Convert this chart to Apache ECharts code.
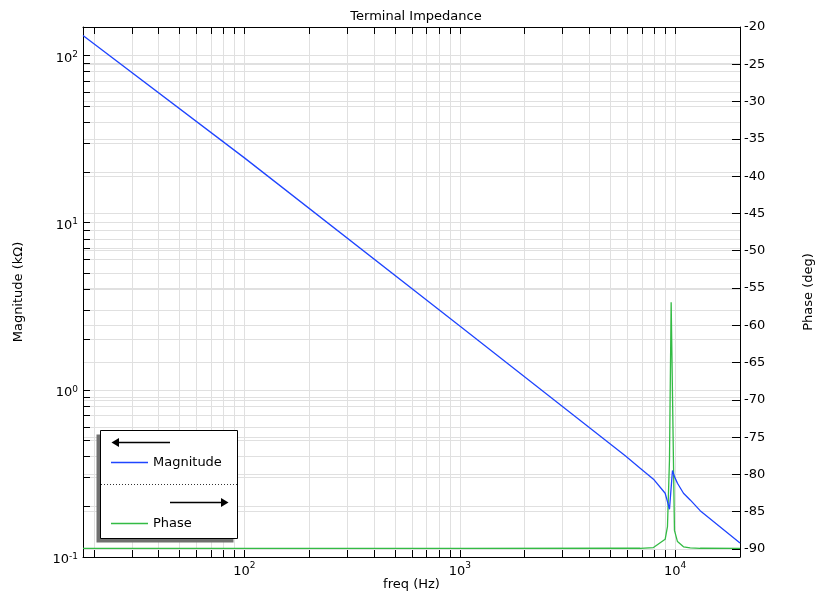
<!DOCTYPE html>
<html>
<head>
<meta charset="utf-8">
<script src="https://cdn.jsdelivr.net/npm/echarts@6/dist/echarts.min.js"></script>
<style>
  html, body { margin: 0; padding: 0; background: #fff; }
  #chart { width: 815px; height: 595px; }
</style>
</head>
<body>
<div id="chart"></div>
<script>
// sweep
var freqHz = [17.8, 100, 1000, 5865, 6878, 7929, 8985, 9209, 9409, 9580, 9717, 9925, 10249, 10930, 11742, 13063, 20000];
var magKOhm = [131.8, 24.4, 2.41, 0.403, 0.340, 0.292, 0.2406, 0.2144, 0.193, 0.197, 0.329, 0.3025, 0.2763, 0.2406, 0.2195, 0.1893, 0.1213];
var phaseDeg = [-89.92, -89.92, -89.92, -89.9, -89.9, -89.8, -88.7, -87.0, -78.1, -56.9, -69.2, -87.5, -89.0, -89.7, -89.85, -89.9, -89.92];

// axis ranges and ticks
var freqRange = [17.8, 20000];
var magRange = [0.1, 148];
var phaseRange = [-91.07, -20];
var freqDecades = [1, 2, 3, 4];
var magDecades = [-1, 0, 1, 2];
var mantissas = [1, 2, 3, 4, 5, 6, 7, 8, 9];
var freqLabelExp = [2, 3, 4];
var magLabelExp = [-1, 0, 1, 2];
var phaseTicks = [-90, -85, -80, -75, -70, -65, -60, -55, -50, -45, -40, -35, -30, -25, -20];

function pow10Label(v) {
  return "{b|10}{s|" + Math.round(v) + "}";
}
var powRich = {
  b: { fontFamily: "DejaVu Sans", fontSize: 13, lineHeight: 22, color: "#000" },
  s: { fontFamily: "DejaVu Sans", fontSize: 9, lineHeight: 10, verticalAlign: "top", color: "#000" },
};
// left labels sit a little below their tick, like the original
var powRichLeft = {
  b: { fontFamily: "DejaVu Sans", fontSize: 13, lineHeight: 22, padding: [6, 0, 0, 0], color: "#000" },
  s: { fontFamily: "DejaVu Sans", fontSize: 9, lineHeight: 10, padding: [6, 0, 0, 0], verticalAlign: "top", color: "#000" },
};
function logTicks(decades, lo, hi) {
  var out = [];
  decades.forEach(function (d) {
    mantissas.forEach(function (m) {
      var v = Math.log10(m * Math.pow(10, d));
      if (v >= lo - 1e-9 && v <= hi + 1e-9) out.push(v);
    });
  });
  return out;
}

var xMin = Math.log10(freqRange[0]), xMax = Math.log10(freqRange[1]);
var yMin = Math.log10(magRange[0]), yMax = Math.log10(magRange[1]);
var xTicks = logTicks(freqDecades, xMin, xMax);
var yTicks = logTicks(magDecades, yMin, yMax);

var magData = freqHz.map(function (f, i) { return [Math.log10(f), Math.log10(magKOhm[i])]; });
var phaseData = freqHz.map(function (f, i) { return [Math.log10(f), phaseDeg[i]]; });

var FONT = "DejaVu Sans";
var gridColor = "#e0e0e0";

var chart = echarts.init(document.getElementById("chart"));
var option = {
  animation: false,
  textStyle: { fontFamily: FONT },
  title: {
    text: "Terminal Impedance",
    left: 411,
    textAlign: "center",
    top: 5,
    textStyle: { fontFamily: FONT, fontSize: 13, fontWeight: "normal", color: "#000" },
  },
  grid: {
    left: 83,
    right: 75,
    top: 27,
    bottom: 38,
    outerBoundsMode: "none",
  },
  legend: {
    orient: "vertical",
    left: 111,
    top: 456,
    padding: 0,
    itemGap: 48,
    itemWidth: 37,
    itemHeight: 1.4,
    icon: "rect",
    z: 10,
    textStyle: { fontFamily: FONT, fontSize: 13, color: "#000" },
    data: ["Magnitude", "Phase"],
  },
  xAxis: [
    {
      type: "value",
      position: "bottom",
      min: xMin,
      max: xMax,
      name: "freq (Hz)",
      nameLocation: "middle",
      nameGap: 21,
      nameMoveOverlap: false,
      nameTextStyle: { fontFamily: FONT, fontSize: 13, color: "#000" },
      axisLine: { onZero: false, lineStyle: { color: "#000", width: 1 } },
      axisTick: { inside: true, length: 7, customValues: xTicks, lineStyle: { color: "#000" } },
      axisLabel: {
        customValues: freqLabelExp,
        formatter: pow10Label,
        rich: powRich,
        margin: 4,
        color: "#000",
      },
      splitLine: { show: true, lineStyle: { color: gridColor, width: 1 } },
    },
    {
      type: "value",
      position: "top",
      min: xMin,
      max: xMax,
      axisLine: { onZero: false, lineStyle: { color: "#000", width: 1 } },
      axisTick: { inside: true, length: 7, customValues: xTicks, lineStyle: { color: "#000" } },
      axisLabel: { show: false },
      splitLine: { show: false },
    },
  ],
  yAxis: [
    {
      type: "value",
      position: "left",
      min: yMin,
      max: yMax,
      name: "Magnitude (k\u03a9)",
      nameLocation: "middle",
      nameGap: 58,
      nameMoveOverlap: false,
      nameTextStyle: { fontFamily: FONT, fontSize: 13, color: "#000" },
      axisLine: { show: true, onZero: false, lineStyle: { color: "#000", width: 1 } },
      axisTick: { show: true, inside: true, length: 7, customValues: yTicks, lineStyle: { color: "#000" } },
      axisLabel: {
        customValues: magLabelExp,
        formatter: pow10Label,
        rich: powRichLeft,
        margin: 5,
        color: "#000",
      },
      splitLine: { show: true, lineStyle: { color: gridColor, width: 1 } },
    },
    {
      type: "value",
      position: "right",
      min: phaseRange[0],
      max: phaseRange[1],
      name: "Phase (deg)",
      nameLocation: "middle",
      nameGap: 62,
      nameMoveOverlap: false,
      nameRotate: 90,
      nameTextStyle: { fontFamily: FONT, fontSize: 13, color: "#000" },
      axisLine: { show: true, onZero: false, lineStyle: { color: "#000", width: 1 } },
      axisTick: { show: true, inside: true, length: 8, customValues: phaseTicks, lineStyle: { color: "#000" } },
      axisLabel: {
        customValues: phaseTicks,
        formatter: function (v) { return String(Math.round(v)); },
        margin: 4,
        fontFamily: FONT,
        fontSize: 13,
        color: "#000",
      },
      splitLine: { show: true, lineStyle: { color: gridColor, width: 1 } },
    },
  ],
  graphic: [
    { type: "rect", z: 5, shape: { x: 96.5, y: 434.5, width: 137, height: 108 }, style: { fill: "#707070" } },
    { type: "rect", z: 6, shape: { x: 100.5, y: 430.5, width: 137, height: 108 }, style: { fill: "#fff", stroke: "#000", lineWidth: 1 } },
    { type: "line", z: 7, shape: { x1: 101, y1: 484.5, x2: 237, y2: 484.5 }, style: { stroke: "#333", lineWidth: 1, lineDash: [1, 2] } },
    { type: "line", z: 7, shape: { x1: 118, y1: 442.5, x2: 170, y2: 442.5 }, style: { stroke: "#000", lineWidth: 1.5 } },
    { type: "polygon", z: 7, shape: { points: [[111.5, 442.5], [119, 438], [119, 447]] }, style: { fill: "#000" } },
    { type: "line", z: 7, shape: { x1: 170, y1: 502.5, x2: 222, y2: 502.5 }, style: { stroke: "#000", lineWidth: 1.5 } },
    { type: "polygon", z: 7, shape: { points: [[228.5, 502.5], [221, 498], [221, 507]] }, style: { fill: "#000" } },
  ],
  series: [
    {
      name: "Magnitude",
      type: "line",
      xAxisIndex: 0,
      yAxisIndex: 0,
      data: magData,
      symbol: "none",
      color: "#1f45ff",
      lineStyle: { width: 1.3, color: "#1f45ff" },
      z: 3,
    },
    {
      name: "Phase",
      type: "line",
      xAxisIndex: 0,
      yAxisIndex: 1,
      data: phaseData,
      symbol: "none",
      color: "#33bb44",
      lineStyle: { width: 1.3, color: "#33bb44" },
      z: 2,
    },
  ],
};
chart.setOption(option);
</script>
</body>
</html>
